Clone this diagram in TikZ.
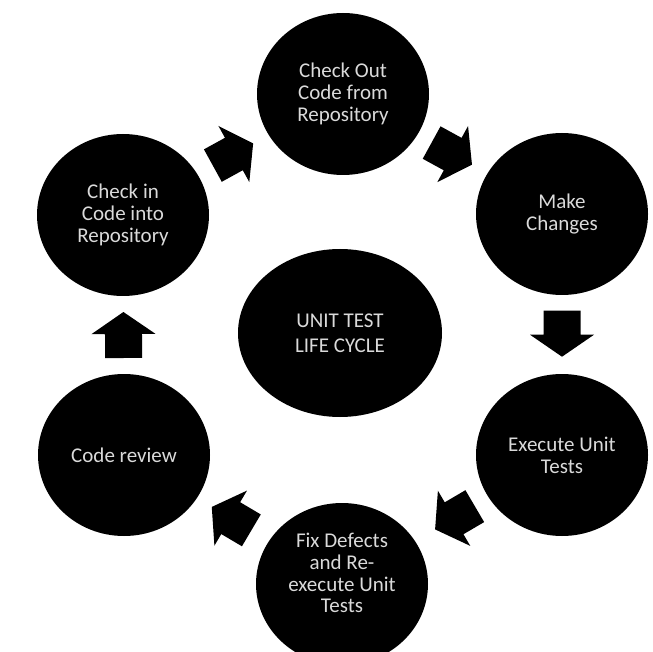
\documentclass[tikz,border=0pt]{standalone}
\usepackage{fontspec}
\setmainfont{Carlito}
\usetikzlibrary{shapes.geometric,calc}
\definecolor{textgrey}{HTML}{DADADA}
\newcommand\stagefont{\fontsize{21}{21.8}\selectfont}
\newcommand\hubfont{\fontsize{21}{25}\selectfont}
\tikzset{
  stage/.style={ellipse, fill=black, text=textgrey, minimum width=172pt,
    minimum height=162pt, inner sep=0pt, align=center, font=\stagefont},
  hub/.style={stage, minimum width=204pt, minimum height=168pt, font=\hubfont},
  blockarrow/.pic={\fill[black] (-23,-18.5) -- (1,-18.5) -- (1,-32) -- (23,0)
      -- (1,32) -- (1,18.5) -- (-23,18.5) -- cycle;},
  flow/.style={sloped, allow upside down}
}
\begin{document}
\begin{tikzpicture}[x=1pt,y=-1pt]
\useasboundingbox[fill=white] (0,0) rectangle (653,652);
\node[stage] (chkout) at (343,94) {Check Out\\Code from\\Repository};
\node[stage] (make) at (562,214) {Make\\Changes};
\node[stage] (exec) at (562,455) {Execute Unit\\Tests};
\node[stage] (fix) at (342,584) {};
\node[text=textgrey, align=center, font=\stagefont] (fixtext) at ([yshift=11pt]fix.center) {Fix Defects\\and Re-\\execute Unit\\Tests};
\node[stage] (review) at (124,455) {Code review};
\node[stage] (chkin) at (123,215) {Check in\\Code into\\Repository};
\node[hub] (hubnode) at (340,333) {UNIT TEST\\LIFE CYCLE};

\path (chkin) -- pic[flow, pos=0.5]{blockarrow} (chkout);
\path (chkout) -- pic[flow, pos=0.49]{blockarrow} (make);
\path (make) -- pic[flow, pos=0.49]{blockarrow} (exec);
\path (exec) -- pic[flow, pos=0.46]{blockarrow} (fix);
\path (fix) -- pic[flow, pos=0.52]{blockarrow} (review);
\path (review) -- pic[flow, pos=0.5]{blockarrow} (chkin);
\end{tikzpicture}
\end{document}
